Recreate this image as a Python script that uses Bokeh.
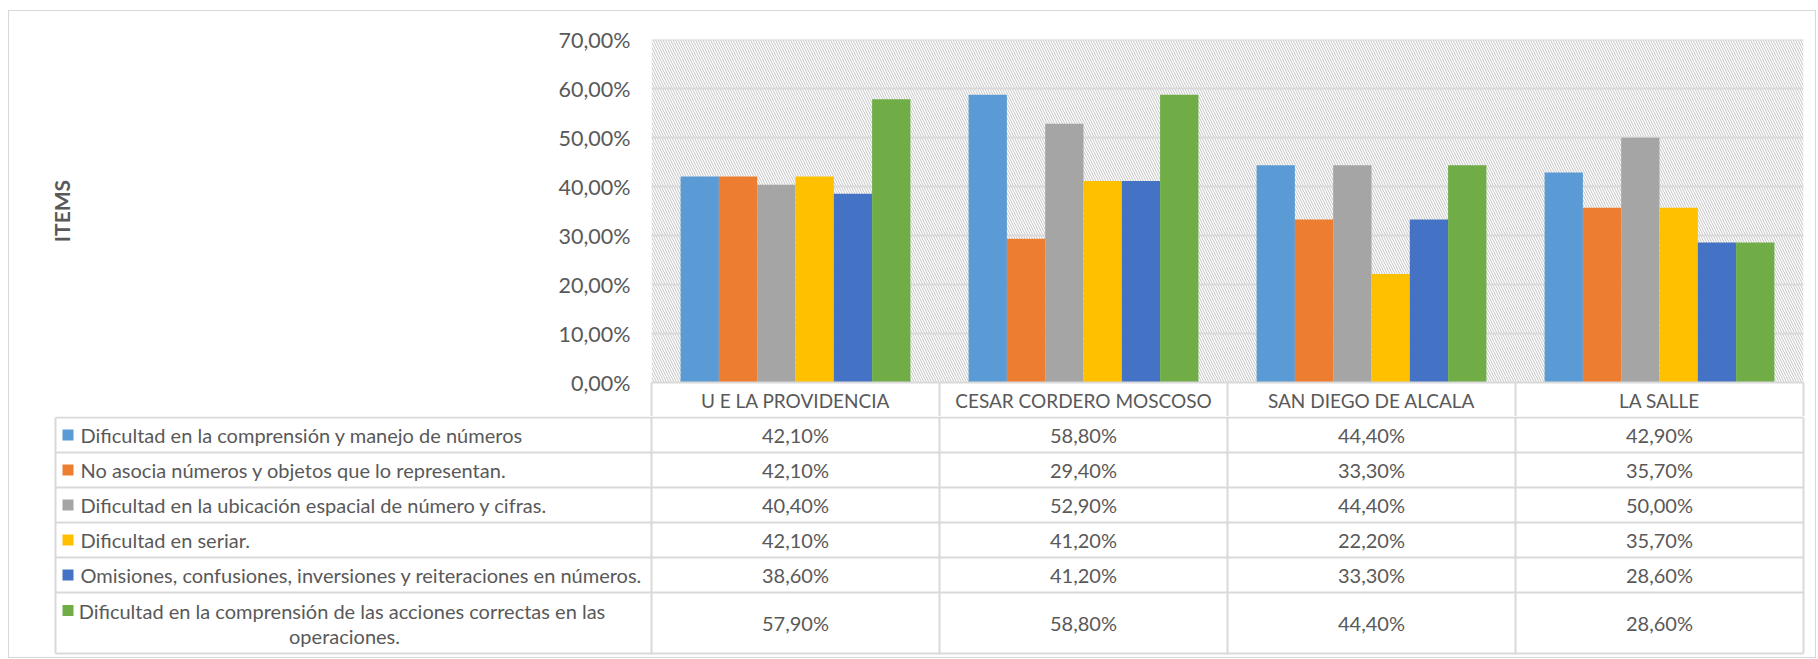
from bokeh.plotting import figure
from bokeh.models import (ColumnDataSource, Range1d, FixedTicker,
                          CustomJSTickFormatter, BoxAnnotation, LinearAxis)
from bokeh.layouts import column
from bokeh.core.properties import value
from bokeh.embed import file_html
from bokeh.resources import INLINE

# ---------------- data ----------------
categories = ["U E LA PROVIDENCIA", "CESAR CORDERO MOSCOSO",
              "SAN DIEGO DE ALCALA", "LA SALLE"]
series_names = [
    "Dificultad en la comprensión y manejo de números",
    "No asocia números y objetos que lo representan.",
    "Dificultad en la ubicación espacial de número y cifras.",
    "Dificultad en seriar.",
    "Omisiones, confusiones, inversiones y reiteraciones en números.",
    "Dificultad en la  comprensión de las acciones correctas en las operaciones.",
]
comprension = [42.1, 58.8, 44.4, 42.9]
no_asocia = [42.1, 29.4, 33.3, 35.7]
ubicacion = [40.4, 52.9, 44.4, 50.0]
seriar = [42.1, 41.2, 22.2, 35.7]
omisiones = [38.6, 41.2, 33.3, 28.6]
acciones = [57.9, 58.8, 44.4, 28.6]
y_ticks = [0, 10, 20, 30, 40, 50, 60, 70]
y_title = "ITEMS"

series_values = [comprension, no_asocia, ubicacion, seriar, omisiones, acciones]
colors = ["#5B9BD5", "#ED7D31", "#A5A5A5", "#FFC000", "#4472C4", "#70AD47"]

TEXT = "#595959"
GRID = "#d9d9d9"
FONT = "Lato"
TFS = "20px"

# ---------------- layout constants ----------------
W = 1806
CHART_LEFT = 642
RIGHT = 12
ncat = len(categories)
CAT_PX = (W - CHART_LEFT - RIGHT) / ncat
TABLE_LEFT = 46
LEG_W = (CHART_LEFT - TABLE_LEFT) / CAT_PX
BW = 0.133
HEADER_PX = 34

n = len(series_values)
centers = [i + 0.5 for i in range(ncat)]

# ---------------- chart ----------------
p = figure(width=W, height=28 + 343 + HEADER_PX,
           x_range=Range1d(0, ncat), y_range=Range1d(0, 70.1),
           output_backend="svg", toolbar_location=None,
           x_axis_location=None,
           min_border_left=CHART_LEFT, min_border_right=RIGHT,
           min_border_top=28, min_border_bottom=HEADER_PX, frame_align=False)
p.outline_line_color = None
p.background_fill_color = "white"
p.border_fill_color = "white"
p.xgrid.visible = False

hatch = BoxAnnotation(fill_alpha=0, line_color=None, hatch_pattern="\\",
                      hatch_color="#c4c4c4", hatch_scale=5, hatch_weight=1,
                      level="image")
p.add_layout(hatch)

p.yaxis.ticker = FixedTicker(ticks=y_ticks)
p.yaxis.formatter = CustomJSTickFormatter(
    code="return tick.toFixed(2).replace('.', ',') + '%';")
p.yaxis.axis_line_color = None
p.yaxis.major_tick_line_color = None
p.yaxis.minor_tick_line_color = None
p.yaxis.major_tick_out = 0
p.yaxis.major_tick_in = 0
p.yaxis.major_label_standoff = 21
p.yaxis.major_label_text_font = FONT
p.yaxis.major_label_text_font_size = "21.5px"
p.yaxis.major_label_text_color = TEXT
p.yaxis.axis_label = y_title
p.yaxis.axis_label_text_font = FONT
p.yaxis.axis_label_text_font_style = "bold"
p.yaxis.axis_label_text_font_size = "21px"
p.yaxis.axis_label_text_color = TEXT
p.yaxis.axis_label_standoff = 482
p.ygrid.grid_line_color = GRID
p.ygrid.grid_line_width = 2

for i, (vals, c) in enumerate(zip(series_values, colors)):
    off = (i - (n - 1) / 2) * BW
    src = ColumnDataSource(dict(x=[cx + off for cx in centers], top=vals,
                                cat=categories))
    p.vbar(x="x", top="top", width=BW, source=src, fill_color=c, line_color=None)

# header row of the data table = category axis below the plot area
hdr = LinearAxis(ticker=FixedTicker(ticks=centers,
                                    minor_ticks=list(range(ncat + 1))),
                 formatter=CustomJSTickFormatter(args=dict(names=categories),
                                                 code="return names[Math.floor(tick)];"))
hdr.axis_line_color = GRID
hdr.axis_line_width = 2
hdr.major_tick_line_color = None
hdr.major_tick_out = 0
hdr.major_tick_in = 0
hdr.minor_tick_line_color = GRID
hdr.minor_tick_line_width = 2
hdr.minor_tick_out = HEADER_PX
hdr.minor_tick_in = 0
hdr.major_label_standoff = 6 - HEADER_PX
hdr.major_label_text_font = FONT
hdr.major_label_text_font_size = "19px"
hdr.major_label_text_color = TEXT
p.add_layout(hdr, "below")

# ---------------- data table ----------------
RPX = 35.0
row_h = [1.0] * (n - 1) + [61 / RPX]
tops = [sum(row_h[:i]) for i in range(len(row_h))]
total = sum(row_h)

t = figure(width=W, height=int(round(1 + total * RPX + 4)),
           x_range=Range1d(-LEG_W - 2 / CAT_PX, ncat + 2 / CAT_PX),
           y_range=Range1d(total + 4 / RPX, -1 / RPX),
           output_backend="svg", toolbar_location=None,
           min_border_left=TABLE_LEFT - 2, min_border_right=RIGHT - 2,
           min_border_top=0, min_border_bottom=0, frame_align=False)
t.axis.visible = False
t.grid.visible = False
t.outline_line_color = None
t.border_fill_color = "white"

# horizontal lines
hy = tops + [total]
t.segment(x0=[-LEG_W] * len(hy), x1=[ncat] * len(hy), y0=hy, y1=hy,
          line_color=GRID, line_width=2)
# vertical lines
vx = [-LEG_W] + list(range(ncat + 1))
t.segment(x0=vx, x1=vx, y0=[0] * len(vx), y1=[total] * len(vx),
          line_color=GRID, line_width=2)

# row labels and values
key_y = []
for r in range(n):
    top = tops[r]
    h = row_h[r]
    cy = top + h / 2
    name = series_names[r]
    if h > 1:
        lines = name.rsplit(" ", 1)
        ly = [cy - 12.5 / RPX, cy + 12.5 / RPX]
        t.text(x=[-LEG_W] * 2, y=ly, text=lines, x_offset=289,
               text_align="center", text_baseline="middle",
               text_font=value(FONT), text_font_size=TFS, text_color=TEXT)
        key_y.append(ly[0])
    else:
        t.text(x=[-LEG_W], y=[cy], text=[name], x_offset=25,
               text_align="left", text_baseline="middle",
               text_font=value(FONT), text_font_size=TFS, text_color=TEXT)
        key_y.append(cy)
    vals = ["%s%%" % ("%.2f" % v).replace(".", ",") for v in series_values[r]]
    t.text(x=centers, y=[cy] * ncat, text=vals,
           text_align="center", text_baseline="middle",
           text_font=value(FONT), text_font_size=TFS, text_color=TEXT)

t.scatter(x=[-LEG_W + 12.5 / CAT_PX] * n, y=key_y, marker="square", size=11,
          fill_color=colors, line_color=None)

layout = column(p, t, styles={"border": "1px solid #d9d9d9",
                              "margin-left": "8px", "margin-top": "10px"})
open("out.html", "w").write(file_html(layout, INLINE))
